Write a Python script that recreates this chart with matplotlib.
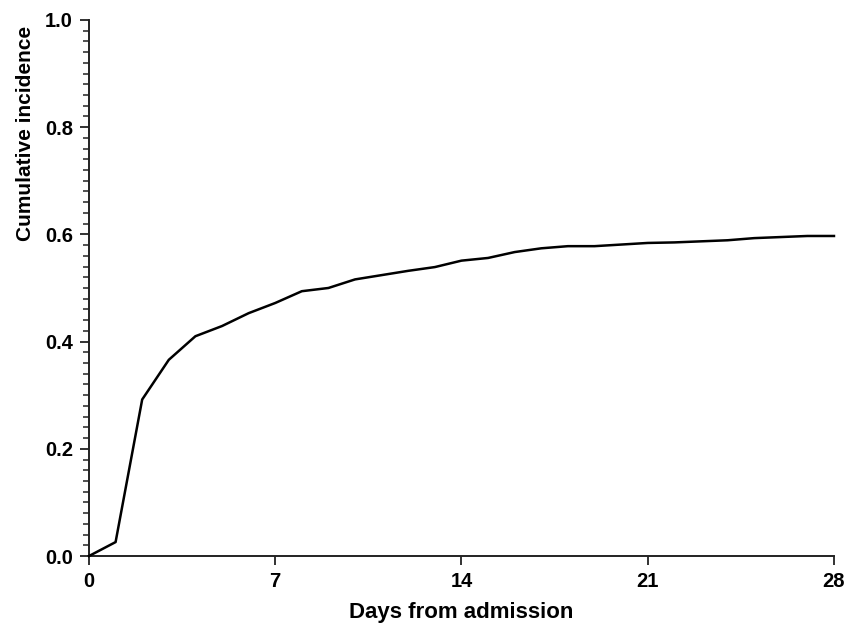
import numpy as np
import matplotlib
matplotlib.use("Agg")
import matplotlib.pyplot as plt
from matplotlib.ticker import MultipleLocator

# cumulative incidence, one value per day
days = list(range(0, 29))
incidence = [0.000, 0.026, 0.292, 0.366, 0.410, 0.429, 0.453, 0.472,
             0.494, 0.500, 0.516, 0.524, 0.532, 0.539, 0.551, 0.556,
             0.567, 0.574, 0.578, 0.578, 0.581, 0.584, 0.585, 0.587,
             0.589, 0.593, 0.595, 0.597, 0.597]

x_ticks = [0, 7, 14, 21, 28]
y_ticks = [0.0, 0.2, 0.4, 0.6, 0.8, 1.0]

plt.rcParams["font.family"] = ["Liberation Sans", "DejaVu Sans"]
plt.rcParams["font.weight"] = "bold"

fig = plt.figure(figsize=(8.49, 6.23), dpi=100, facecolor="white")
ax = fig.add_axes([0.1048, 0.1075, 0.8775, 0.8605])

ax.plot(days, incidence, color="black", linewidth=1.8, solid_joinstyle="round",
        clip_on=False, zorder=3)

ax.set_xlim(0, 28)
ax.set_ylim(0, 1.0)
ax.set_xticks(x_ticks)
ax.set_yticks(y_ticks)
ax.set_yticklabels([f"{v:.1f}" for v in y_ticks])
ax.yaxis.set_minor_locator(MultipleLocator(0.02))

for side in ["top", "right"]:
    ax.spines[side].set_visible(False)
for side in ["left", "bottom"]:
    ax.spines[side].set_linewidth(1.4)
    ax.spines[side].set_color("#222222")

ax.tick_params(axis="both", which="major", length=6.5, width=1.3,
               color="#222222", labelsize=14.5, pad=5)
ax.tick_params(axis="y", which="minor", length=4, width=1.1, color="#222222")

for lab in ax.get_xticklabels() + ax.get_yticklabels():
    lab.set_fontweight("bold")

ax.set_xlabel("Days from admission", fontsize=16, fontweight="bold")
ax.xaxis.set_label_coords(0.5, -0.086)
ax.set_ylabel("Cumulative incidence", fontsize=15, fontweight="bold")
# label sits high on the axis in the original, not centred
ax.yaxis.set_label_coords(-0.072, 0.789)

fig.savefig("out.png", dpi=100, facecolor="white")
